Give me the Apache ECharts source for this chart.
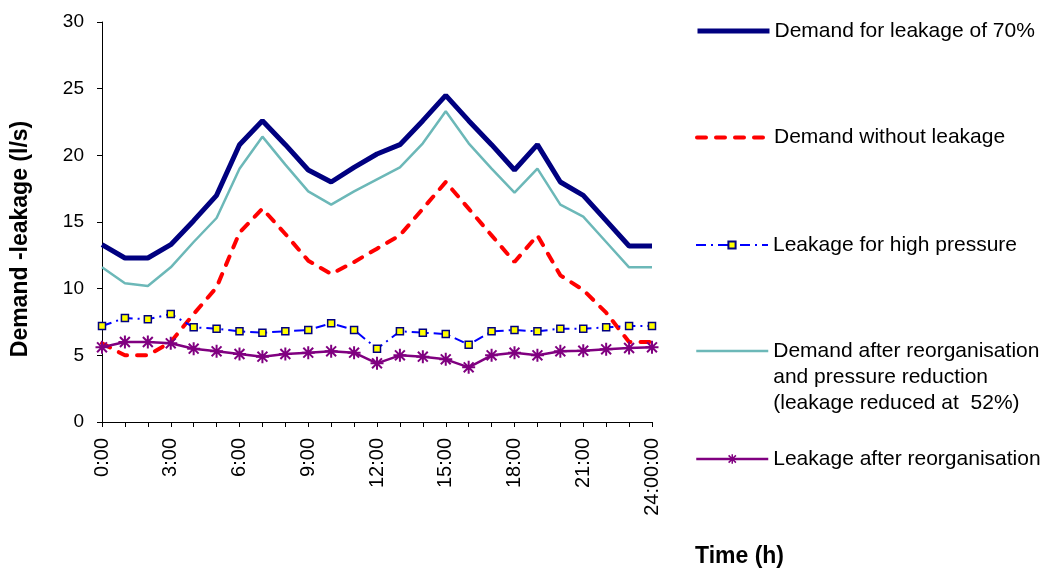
<!DOCTYPE html>
<html>
<head>
<meta charset="utf-8">
<script src="https://cdn.jsdelivr.net/npm/echarts@6/dist/echarts.min.js"></script>
<style>
html,body{margin:0;padding:0;background:#fff;}
#chart{width:1050px;height:570px;}
</style>
</head>
<body>
<div id="chart"></div>
<script>
var categories = ["0:00","1:00","2:00","3:00","4:00","5:00","6:00","7:00","8:00","9:00","10:00","11:00","12:00","13:00","14:00","15:00","16:00","17:00","18:00","19:00","20:00","21:00","22:00","23:00","24:00:00"];
var demandLeak70 = [13.3,12.3,12.3,13.3,15.1,17.0,20.8,22.6,20.8,18.9,18.0,19.1,20.1,20.8,22.6,24.5,22.6,20.8,18.9,20.8,18.0,17.0,15.1,13.2,13.2];
var demandNoLeak = [5.9,5.0,5.0,6.0,8.1,10.1,14.2,16.0,14.1,12.1,11.1,12.0,13.0,14.0,16.0,18.0,16.0,14.0,12.0,14.0,11.0,9.9,8.2,6.0,6.0];
var leakHighPressure = [7.2,7.8,7.7,8.1,7.1,7.0,6.8,6.7,6.8,6.9,7.4,6.9,5.5,6.8,6.7,6.6,5.8,6.8,6.9,6.8,7.0,7.0,7.1,7.2,7.2];
var demandAfterReorg = [11.6,10.4,10.2,11.6,13.5,15.3,19.0,21.4,19.3,17.3,16.3,17.3,18.2,19.1,20.9,23.3,20.9,19.0,17.2,19.0,16.3,15.4,13.5,11.6,11.6];
var leakAfterReorg = [5.6,6.0,6.0,5.9,5.5,5.3,5.1,4.9,5.1,5.2,5.3,5.2,4.4,5.0,4.9,4.7,4.1,5.0,5.2,5.0,5.3,5.35,5.45,5.55,5.6];
var yTicks = [0,5,10,15,20,25,30];

var names = [
  "Demand for leakage of 70%",
  "Demand without leakage",
  "Leakage for high pressure",
  "Demand after reorganisation\nand pressure reduction\n(leakage reduced at  52%)",
  "Leakage after reorganisation"
];
var FONT = "'Liberation Sans', Arial, sans-serif";
var asterisk = "path://M5,0L5,10M1.2,1.2L8.8,8.8M8.8,1.2L1.2,8.8M0,5L10,5";

var legendCenters = [31, 137.5, 245, 351, 459];
var legendLine = [
  {color: '#000080', width: 5},
  {color: '#ff0000', width: 4, type: [9, 10], cap: 'round'},
  {color: '#0000ff', width: 2, type: [10, 5, 2, 5]},
  {color: '#6cb8b8', width: 2.5},
  {color: '#800080', width: 2.5}
];
var legendItemStyle = [
  {opacity: 0},
  {opacity: 0},
  null,
  {opacity: 0},
  {color: '#800080', borderColor: '#800080', borderWidth: 1.5}
];
var legendIconH = [9, 9, 9, 9, 12];
var legends = names.map(function(n, i){
  var multi = i === 3;
  var item = {name: n, lineStyle: legendLine[i]};
  if (legendItemStyle[i]) item.itemStyle = legendItemStyle[i];
  return {
    show: true,
    orient: 'vertical',
    left: 695,
    top: multi ? legendCenters[i] - 65 : legendCenters[i] - 13,
    padding: 0,
    itemWidth: 72,
    itemHeight: legendIconH[i],
    itemGap: 0,
    selectedMode: false,
    data: [item],
    formatter: multi ? function(name){ return '\n\n' + name; } : null,
    textStyle: {fontFamily: FONT, fontSize: 21, color: '#000', lineHeight: 26}
  };
});

var chart = echarts.init(document.getElementById('chart'), null, {renderer: 'canvas'});
chart.setOption({
  animation: false,
  backgroundColor: '#fff',
  grid: {left: 102, right: 398, top: 22, bottom: 148, containLabel: false},
  legend: legends,
  xAxis: {
    type: 'category',
    data: categories,
    boundaryGap: false,
    axisLine: {lineStyle: {color: '#000', width: 1}},
    axisTick: {show: true, interval: 0, length: 5, lineStyle: {color: '#000'}},
    axisLabel: {interval: 2, rotate: 90, margin: 16, fontFamily: FONT, fontSize: 20, color: '#000'},
    splitLine: {show: false}
  },
  yAxis: {
    type: 'value',
    min: yTicks[0], max: yTicks[yTicks.length-1], interval: 5,
    axisLine: {show: true, lineStyle: {color: '#000', width: 1}},
    axisTick: {show: true, length: 5, lineStyle: {color: '#000'}},
    axisLabel: {margin: 18, fontFamily: FONT, fontSize: 19, color: '#000'},
    splitLine: {show: false}
  },
  graphic: [
    {type: 'text', x: 21, y: 239, rotation: Math.PI/2,
     style: {text: 'Demand -leakage (l/s)', font: "bold 23px 'Liberation Sans', Arial, sans-serif", fill: '#000', textAlign: 'center', textVerticalAlign: 'middle'}},
    {type: 'text', x: 695, y: 557,
     style: {text: 'Time (h)', font: "bold 23px 'Liberation Sans', Arial, sans-serif", fill: '#000', textAlign: 'left', textVerticalAlign: 'middle'}}
  ],
  series: [
    {name: names[0], type: 'line', data: demandLeak70, symbol: 'none', showSymbol: false,
     lineStyle: legendLine[0], itemStyle: {color: '#000080'}, z: 3},
    {name: names[1], type: 'line', data: demandNoLeak, symbol: 'none', showSymbol: false,
     lineStyle: legendLine[1], itemStyle: {color: '#ff0000'}, z: 4},
    {name: names[2], type: 'line', data: leakHighPressure, symbol: 'rect', symbolSize: 7,
     lineStyle: legendLine[2],
     itemStyle: {color: '#ffff00', borderColor: '#000080', borderWidth: 1.5}, z: 5},
    {name: names[3], type: 'line', data: demandAfterReorg, symbol: 'none', showSymbol: false,
     lineStyle: legendLine[3], itemStyle: {color: '#6cb8b8'}, z: 2},
    {name: names[4], type: 'line', data: leakAfterReorg, symbol: asterisk, symbolSize: 13,
     lineStyle: legendLine[4],
     itemStyle: {color: '#800080', borderColor: '#800080', borderWidth: 2}, z: 6}
  ]
});
</script>
</body>
</html>
